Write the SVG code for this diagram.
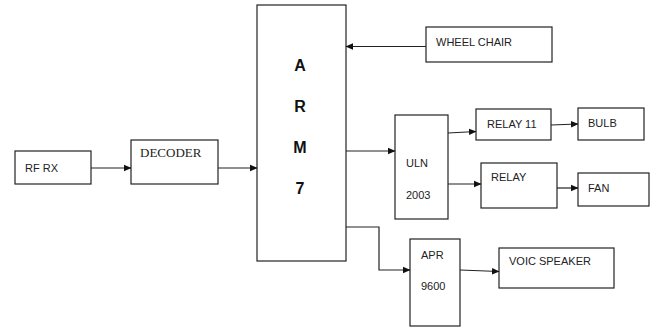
<svg xmlns="http://www.w3.org/2000/svg" width="656" height="329" viewBox="0 0 656 329">
<style>
.box{fill:#fff;stroke:#222;stroke-width:1.2}
.t{font-family:"Liberation Sans",Arial,sans-serif;font-size:11px;fill:#222}
.s{font-family:"Liberation Serif","Times New Roman",serif;font-size:13px;fill:#222}
.b{font-family:"Liberation Sans",Arial,sans-serif;font-size:16px;font-weight:bold;fill:#111;text-anchor:middle}
.c{fill:none;stroke:#222;stroke-width:1.2;marker-end:url(#ah)}
</style>
<defs>
<marker id="ah" markerWidth="8" markerHeight="8" refX="7" refY="4" orient="auto" markerUnits="userSpaceOnUse">
<path d="M0,0.8 L7.5,4 L0,7.2 Z" fill="#111"/>
</marker>
</defs>
<rect width="656" height="329" fill="#fff"/>
<g id="rfrx"><rect class="box" x="15" y="151" width="76" height="33"/><text class="t" x="25" y="172">RF RX</text></g>
<g id="decoder"><rect class="box" x="131" y="140" width="87" height="44"/><text class="s" x="140" y="157">DECODER</text></g>
<g id="arm7"><rect class="box" x="257" y="5" width="89" height="256"/>
<text class="b" x="300" y="71">A</text><text class="b" x="300" y="112">R</text><text class="b" x="300" y="153">M</text><text class="b" x="300" y="194">7</text></g>
<g id="wheelchair"><rect class="box" x="426" y="27" width="126" height="35"/><text class="t" x="436" y="46">WHEEL CHAIR</text></g>
<g id="uln2003"><rect class="box" x="395" y="115" width="53" height="104"/><text class="t" x="406" y="167">ULN</text><text class="t" x="406" y="199">2003</text></g>
<g id="relay11"><rect class="box" x="476" y="109" width="75" height="31"/><text class="t" x="487" y="128">RELAY 11</text></g>
<g id="bulb"><rect class="box" x="578" y="108" width="66" height="32"/><text class="t" x="588" y="127">BULB</text></g>
<g id="relay"><rect class="box" x="481" y="163" width="76" height="45"/><text class="t" x="491" y="181">RELAY</text></g>
<g id="fan"><rect class="box" x="578" y="173" width="71" height="33"/><text class="t" x="588" y="192">FAN</text></g>
<g id="apr9600"><rect class="box" x="410" y="239" width="50" height="87"/><text class="t" x="421" y="259">APR</text><text class="t" x="421" y="290">9600</text></g>
<g id="speaker"><rect class="box" x="499" y="248" width="115" height="40"/><text class="t" x="509" y="265">VOIC SPEAKER</text></g>
<g id="connectors">
<path class="c" d="M91,168 H131"/>
<path class="c" d="M218,168 H257"/>
<path class="c" d="M426,46.5 H346"/>
<path class="c" d="M346,151 H395"/>
<path class="c" d="M448,133 L476,131.5"/>
<path class="c" d="M551,125 L578,124"/>
<path class="c" d="M448,184 H481"/>
<path class="c" d="M557,188 H578"/>
<path class="c" d="M346,227 H379 V270 H410"/>
<path class="c" d="M460,270 L499,271.5"/>
</g>
</svg>
